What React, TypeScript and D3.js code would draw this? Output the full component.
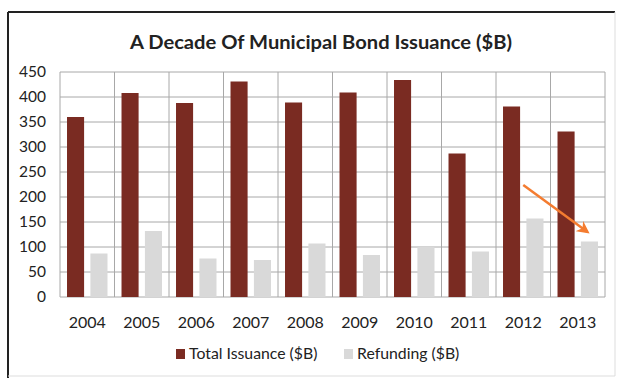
import React from "react";
import * as d3 from "d3";

const years = ["2004", "2005", "2006", "2007", "2008", "2009", "2010", "2011", "2012", "2013"];
const totalIssuance = [360, 408, 388, 431, 389, 409, 434, 287, 381, 331];
const refunding = [87, 132, 77, 74, 107, 84, 100, 91, 157, 111];
const yTicks = [0, 50, 100, 150, 200, 250, 300, 350, 400, 450];
const seriesNames = ["Total Issuance ($B)", "Refunding ($B)"];
const seriesColors = ["#7a2b22", "#d9d9d9"];
// arrow annotation: from (2012, 224) to (2013, 130)
const arrowFrom = { year: "2012", value: 224, offset: 0.5 };
const arrowTo = { year: "2013", value: 130, offset: 0.68 };

const W = 618;
const H = 378;
const M = { left: 60, right: 13, top: 72, bottom: 81 };

export default function App() {
  const x = d3.scaleBand<string>().domain(years).range([M.left, W - M.right]).padding(0);
  const y = d3.scaleLinear().domain([0, 450]).range([H - M.bottom, M.top]);
  const bw = x.bandwidth();
  const inner = d3
    .scaleBand<string>()
    .domain(["total", "refund"])
    .range([0, bw])
    .paddingInner(0.27)
    .paddingOuter(0.3);
  const font = "Lato, 'Open Sans', sans-serif";
  const ax = (x(arrowFrom.year) ?? 0) + bw * arrowFrom.offset;
  const ay = y(arrowFrom.value);
  const bx = (x(arrowTo.year) ?? 0) + bw * arrowTo.offset;
  const by = y(arrowTo.value);

  return (
    <svg width={W} height={H} style={{ position: "absolute", left: 0, top: 0, background: "#fff" }}>
      <defs>
        <marker id="arr" viewBox="0 0 10 10" refX="8" refY="5" markerWidth="5" markerHeight="5" orient="auto">
          <path d="M0,0 L10,5 L0,10 L3,5 Z" fill="#f47c30" />
        </marker>
      </defs>
      {/* frame */}
      <line x1={8} y1={12} x2={615} y2={12} stroke="#222" strokeWidth={2} />
      <line x1={8} y1={12} x2={8} y2={378} stroke="#222" strokeWidth={2} />
      <line x1={8} y1={376} x2={615} y2={376} stroke="#ddd" strokeWidth={1} />
      <line x1={615} y1={12} x2={615} y2={376} stroke="#ddd" strokeWidth={1} />
      <text
        x={321}
        y={49}
        textAnchor="middle"
        fontFamily={font}
        fontWeight="bold"
        fontSize={19}
        fill="#222"
        textLength={382}
        lengthAdjust="spacingAndGlyphs"
      >
        A Decade Of Municipal Bond Issuance ($B)
      </text>
      {/* gridlines */}
      {yTicks.map((t) => (
        <line key={"h" + t} x1={M.left} x2={W - M.right} y1={y(t)} y2={y(t)} stroke="#a8a8a8" strokeWidth={1} />
      ))}
      {years.concat(["end"]).map((yr, i) => {
        const xx = M.left + i * bw;
        return <line key={"v" + yr} x1={xx} x2={xx} y1={y(450)} y2={y(0)} stroke="#a8a8a8" strokeWidth={1} />;
      })}
      {/* bars */}
      {years.map((yr, i) => (
        <g key={yr}>
          <rect
            x={(x(yr) ?? 0) + (inner("total") ?? 0)}
            y={y(totalIssuance[i])}
            width={inner.bandwidth()}
            height={y(0) - y(totalIssuance[i])}
            fill={seriesColors[0]}
          />
          <rect
            x={(x(yr) ?? 0) + (inner("refund") ?? 0)}
            y={y(refunding[i])}
            width={inner.bandwidth()}
            height={y(0) - y(refunding[i])}
            fill={seriesColors[1]}
          />
        </g>
      ))}
      {/* y labels */}
      {yTicks.map((t) => (
        <text key={"yl" + t} x={46} y={y(t)} dy="0.35em" textAnchor="end" fontFamily={font} fontSize={15.5} fill="#222">
          {t}
        </text>
      ))}
      {/* x labels */}
      {years.map((yr) => (
        <text key={"xl" + yr} x={(x(yr) ?? 0) + bw / 2} y={328} textAnchor="middle" fontFamily={font} fontSize={16} fill="#222">
          {yr}
        </text>
      ))}
      {/* arrow */}
      <line x1={ax} y1={ay} x2={bx} y2={by} stroke="#f47c30" strokeWidth={2.5} markerEnd="url(#arr)" />
      {/* legend */}
      <rect x={176} y={349} width={9} height={10} fill={seriesColors[0]} />
      <text x={189} y={359} fontFamily={font} fontSize={15.8} fill="#222">{seriesNames[0]}</text>
      <rect x={344} y={349} width={9} height={10} fill={seriesColors[1]} />
      <text x={357} y={359} fontFamily={font} fontSize={15.8} fill="#222">{seriesNames[1]}</text>
    </svg>
  );
}
